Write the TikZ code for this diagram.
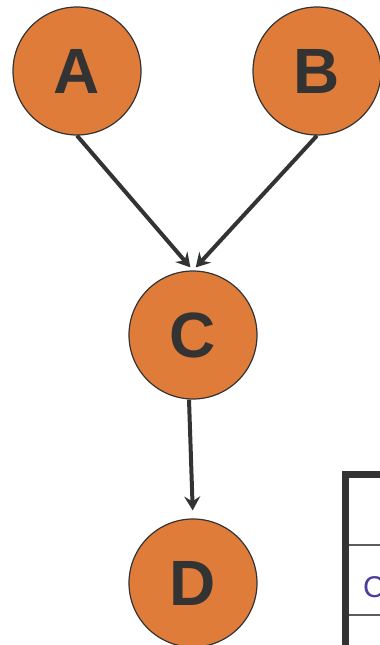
\documentclass[tikz,border=0pt]{standalone}
\usepackage{fontspec}
\setmainfont{Liberation Sans}
\usetikzlibrary{arrows.meta}
\definecolor{nodeorange}{HTML}{E07C3A}
\definecolor{darkline}{HTML}{333333}
\definecolor{tabtext}{HTML}{4B3F9E}
\tikzset{
  vnode/.style={circle, fill=nodeorange, draw=darkline, line width=1.2pt,
    minimum size=128pt, inner sep=0pt, text=darkline,
    font=\fontsize{64}{64}\selectfont\bfseries},
  conn/.style={draw=darkline, line width=4pt,
    -{Stealth[length=14pt,width=16pt,inset=5pt]}, shorten >=4pt}
}
\begin{document}
\begin{tikzpicture}[x=1pt,y=-1pt]
\useasboundingbox (0,0) rectangle (380,645);
\fill[white] (0,0) rectangle (380,645);
\node[vnode] (A) at (77,71) {A};
\node[vnode] (B) at (317,71) {B};
\node[vnode] (C) at (193,335) {C};
\node[vnode] (D) at (193,583) {D};
\draw[conn] (A.south) -- (C.north);
\draw[conn] (B.south) -- (C.north);
\draw[conn, shorten >=8pt] ([xshift=-4pt]C.south) -- (D.north);
% table fragment
\coordinate (t1) at (400,474.5);
\coordinate (t2) at (345.5,474.5);
\coordinate (t3) at (345.5,660);
\draw[darkline, line width=7pt] (t1) -- (t2) -- (t3);
\coordinate (r1a) at (349,545);
\coordinate (r1b) at (400,545);
\coordinate (r2a) at (349,615);
\coordinate (r2b) at (400,615);
\draw[darkline!80, line width=1.5pt] (r1a) -- (r1b);
\draw[darkline!80, line width=1.5pt] (r2a) -- (r2b);
\node[anchor=west, inner sep=0pt, text=tabtext, font=\fontsize{30}{30}\selectfont] (ct) at (363,587) {C};
\end{tikzpicture}
\end{document}
